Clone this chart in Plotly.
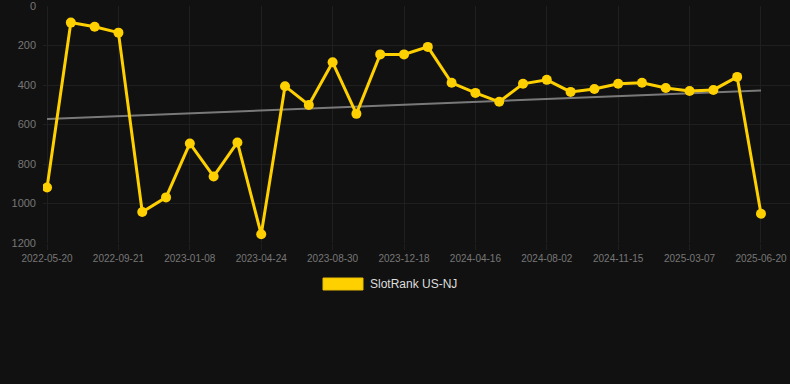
import numpy as np
import plotly.graph_objects as go

dates = [
    "2022-05-20", "2022-06-30", "2022-08-10", "2022-09-21", "2022-10-27",
    "2022-12-03", "2023-01-08", "2023-02-12", "2023-03-19", "2023-04-24",
    "2023-06-05", "2023-07-18", "2023-08-30", "2023-10-05", "2023-11-11",
    "2023-12-18", "2024-01-27", "2024-03-07", "2024-04-16", "2024-05-22",
    "2024-06-27", "2024-08-02", "2024-09-06", "2024-10-11", "2024-11-15",
    "2024-12-22", "2025-01-28", "2025-03-07", "2025-04-10", "2025-05-15",
    "2025-06-20",
]
ranks = [
    919, 84, 105, 135, 1043, 969, 696, 863, 691, 1156,
    406, 501, 285, 546, 245, 245, 207, 389, 440, 485,
    394, 374, 435, 420, 394, 389, 415, 430, 425, 359,
    1052,
]
tick_labels = dates[::3]
y_ticks = [0, 200, 400, 600, 800, 1000, 1200]
series_name = "SlotRank US-NJ"

idx = np.arange(len(ranks))
slope, intercept = np.polyfit(idx, ranks, 1)
trend = (slope * idx + intercept).tolist()

GOLD = "#FFD000"
BG = "#111111"
GRID = "#1f1f1f"

fig = go.Figure()
fig.add_trace(go.Scatter(
    x=dates, y=trend, mode="lines",
    line=dict(color="rgba(140,140,140,0.85)", width=2),
    hoverinfo="skip", showlegend=False,
))
fig.add_trace(go.Scatter(
    x=dates, y=ranks, mode="lines+markers", name=series_name,
    line=dict(color=GOLD, width=3),
    marker=dict(color=GOLD, size=10),
    showlegend=False,
))

# legend (drawn as a swatch + text)
fig.add_shape(type="rect", xref="paper", yref="paper",
              x0=(323 - 43) / 747, x1=(363 - 43) / 747,
              y0=(243 - 290) / 237, y1=(243 - 278) / 237,
              fillcolor=GOLD, line=dict(color="#E8BE00", width=1))
fig.add_annotation(text=series_name, xref="paper", yref="paper",
                   x=(368 - 43) / 747, y=(243 - 284) / 237,
                   xanchor="left", yanchor="middle", showarrow=False,
                   font=dict(family="Liberation Sans, Arial", size=12, color="#dddddd"))

fig.update_layout(
    width=790, height=384,
    margin=dict(l=43, r=0, t=6, b=141),
    paper_bgcolor=BG, plot_bgcolor=BG,
    font=dict(family="Liberation Sans, Arial", color="#777777"),
    showlegend=False,
)
fig.update_xaxes(
    type="category", categoryorder="array", categoryarray=dates,
    range=[-0.17, len(dates) - 1 + 1.22],
    tickmode="array", tickvals=tick_labels, ticktext=tick_labels,
    tickfont=dict(size=10, color="#777777"),
    showgrid=True, gridcolor=GRID, gridwidth=1,
    ticks="outside", ticklen=6, tickcolor=GRID,
    zeroline=False, showline=False, ticklabeloverflow="allow",
)
fig.update_yaxes(
    range=[1200, 0], tickmode="array", tickvals=y_ticks,
    tickfont=dict(size=11, color="#777777"),
    showgrid=True, gridcolor=GRID, gridwidth=1,
    zeroline=False, showline=False, ticks="", ticklabelstandoff=6,
    ticklabeloverflow="allow",
)

fig.write_html(
    "out.html",
    config={"displayModeBar": False},
    post_script="document.body.style.margin='0';document.body.style.background='#111111';",
)
